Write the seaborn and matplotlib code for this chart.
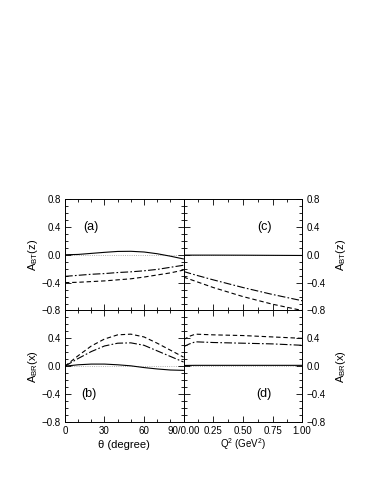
import matplotlib
matplotlib.use("Agg")
import matplotlib.pyplot as plt
import seaborn as sns
from matplotlib.ticker import MultipleLocator, FixedLocator, FixedFormatter

# angle grid (degree) for panels (a) and (b)
theta = [0, 10, 20, 30, 40, 50, 60, 70, 80, 90]
a_solid = [0.0, 0.005, 0.02, 0.035, 0.048, 0.05, 0.04, 0.015, -0.02, -0.06]
a_dashdot = [-0.31, -0.295, -0.28, -0.27, -0.255, -0.245, -0.23, -0.21, -0.18, -0.15]
a_dashed = [-0.40, -0.395, -0.385, -0.375, -0.36, -0.345, -0.32, -0.29, -0.26, -0.22]

b_solid = [0.0, 0.02, 0.03, 0.03, 0.02, 0.005, -0.02, -0.04, -0.055, -0.06]
b_dashdot = [0.0, 0.11, 0.21, 0.29, 0.33, 0.335, 0.30, 0.22, 0.14, 0.06]
b_dashed = [0.0, 0.15, 0.29, 0.39, 0.45, 0.46, 0.42, 0.33, 0.23, 0.13]

# Q^2 grid (GeV^2) for panels (c) and (d)
q2 = [0.0, 0.05, 0.1, 0.25, 0.5, 0.75, 1.0]
c_solid = [-0.005, -0.005, -0.005, -0.005, -0.006, -0.008, -0.01]
c_dashdot = [-0.24, -0.265, -0.29, -0.36, -0.47, -0.57, -0.66]
c_dashed = [-0.32, -0.35, -0.38, -0.47, -0.60, -0.71, -0.80]

d_solid = [0.01, 0.011, 0.012, 0.012, 0.012, 0.012, 0.012]
d_dashdot = [0.28, 0.32, 0.35, 0.34, 0.33, 0.32, 0.30]
d_dashed = [0.38, 0.43, 0.46, 0.45, 0.44, 0.42, 0.40]

sns.set_theme(style="ticks")
plt.rcParams['font.family'] = ['Liberation Sans', 'DejaVu Sans']
plt.rcParams['mathtext.fontset'] = 'custom'
plt.rcParams['mathtext.rm'] = 'Liberation Sans'
plt.rcParams['mathtext.it'] = 'Liberation Sans'
plt.rcParams['text.color'] = 'black'
plt.rcParams['xtick.color'] = 'black'
plt.rcParams['ytick.color'] = 'black'
plt.rcParams['axes.labelcolor'] = 'black'
plt.rcParams['axes.edgecolor'] = 'black'

fig = plt.figure(figsize=(3.82, 4.94), dpi=100)
L, R, B, T = 0.170, 0.791, 0.146, 0.597
W = (R - L) / 2
H = (T - B) / 2
ax_a = fig.add_axes([L, B + H, W, H])
ax_b = fig.add_axes([L, B, W, H])
ax_c = fig.add_axes([L + W, B + H, W, H])
ax_d = fig.add_axes([L + W, B, W, H])

lw = 0.8
dash = (4, 2.5)
dashdot = (7, 2, 1.5, 2)


def draw(ax, x, solid, dd, dsh):
    sns.lineplot(x=x, y=solid, ax=ax, color='black', lw=lw)
    l2 = sns.lineplot(x=x, y=dd, ax=ax, color='black', lw=lw).lines[-1]
    l2.set_dashes(dashdot)
    l3 = sns.lineplot(x=x, y=dsh, ax=ax, color='black', lw=lw).lines[-1]
    l3.set_dashes(dash)
    ax.axhline(0, color='0.6', lw=0.6, ls=':', zorder=0)


draw(ax_a, theta, a_solid, a_dashdot, a_dashed)
draw(ax_b, theta, b_solid, b_dashdot, b_dashed)
draw(ax_c, q2, c_solid, c_dashdot, c_dashed)
draw(ax_d, q2, d_solid, d_dashdot, d_dashed)

for ax in (ax_a, ax_b, ax_c, ax_d):
    ax.set_ylim(-0.8, 0.8)
    ax.yaxis.set_minor_locator(MultipleLocator(0.1))
    ax.tick_params(which='both', direction='in', top=True, bottom=True,
                   left=True, right=True, labelsize=7, width=0.6, pad=3)
    ax.tick_params(which='major', length=4)
    ax.tick_params(which='minor', length=2)
    for s in ax.spines.values():
        s.set_linewidth(0.7)
    ax.set_xlabel('')
    ax.set_ylabel('')

for ax in (ax_a, ax_b):
    ax.set_xlim(0, 90)
    ax.xaxis.set_major_locator(MultipleLocator(30))
    ax.xaxis.set_minor_locator(MultipleLocator(10))
for ax in (ax_c, ax_d):
    ax.set_xlim(0, 1)
    ax.xaxis.set_major_locator(MultipleLocator(0.25))
    ax.xaxis.set_minor_locator(MultipleLocator(0.125))

yt = [-0.8, -0.4, 0.0, 0.4, 0.8]
yl_top = ['\u22120.8', '\u22120.4', '0.0', '0.4', '0.8']
yl_bot = ['\u22120.8', '\u22120.4', '0.0', '0.4', '']
for ax, lab in ((ax_a, yl_top), (ax_c, yl_top), (ax_b, yl_bot), (ax_d, yl_bot)):
    ax.yaxis.set_major_locator(FixedLocator(yt))
    ax.yaxis.set_major_formatter(FixedFormatter(lab))

for ax in (ax_c, ax_d):
    ax.tick_params(labelleft=False, labelright=True)
    ax.yaxis.set_label_position('right')
for ax in (ax_a, ax_c):
    ax.tick_params(labelbottom=False)

ax_b.xaxis.set_major_locator(FixedLocator([0, 30, 60, 90]))
ax_b.xaxis.set_major_formatter(FixedFormatter(['0', '30', '60', '']))
ax_d.xaxis.set_major_locator(FixedLocator([0, 0.25, 0.5, 0.75, 1.0]))
ax_d.xaxis.set_major_formatter(FixedFormatter(['90/0.00', '0.25', '0.50', '0.75', '1.00']))

ax_a.set_ylabel(r'A$_{\rm BT}$(z)', fontsize=8, labelpad=1)
ax_c.set_ylabel(r'A$_{\rm BT}$(z)', fontsize=8, labelpad=6)
ax_b.set_ylabel(r'A$_{\rm BR}$(x)', fontsize=8, labelpad=1)
ax_d.set_ylabel(r'A$_{\rm BR}$(x)', fontsize=8, labelpad=6)

xl_b = ax_b.set_xlabel('\u03b8 (degree)', fontsize=8)
xl_d = ax_d.set_xlabel(r'Q$^2$ (GeV$^2$)', fontsize=7)
for ax, lab in ((ax_b, xl_b), (ax_d, xl_d)):
    lab.set_va('baseline')
    ax.xaxis.set_label_coords(0.5, -0.235)

ax_a.text(20, 0.4, '(a)', fontsize=9, ha='center', va='center')
ax_b.text(18, -0.4, '(b)', fontsize=9, ha='center', va='center')
ax_c.text(0.68, 0.4, '(c)', fontsize=9, ha='center', va='center')
ax_d.text(0.68, -0.4, '(d)', fontsize=9, ha='center', va='center')

fig.savefig('out.png', dpi=100)
